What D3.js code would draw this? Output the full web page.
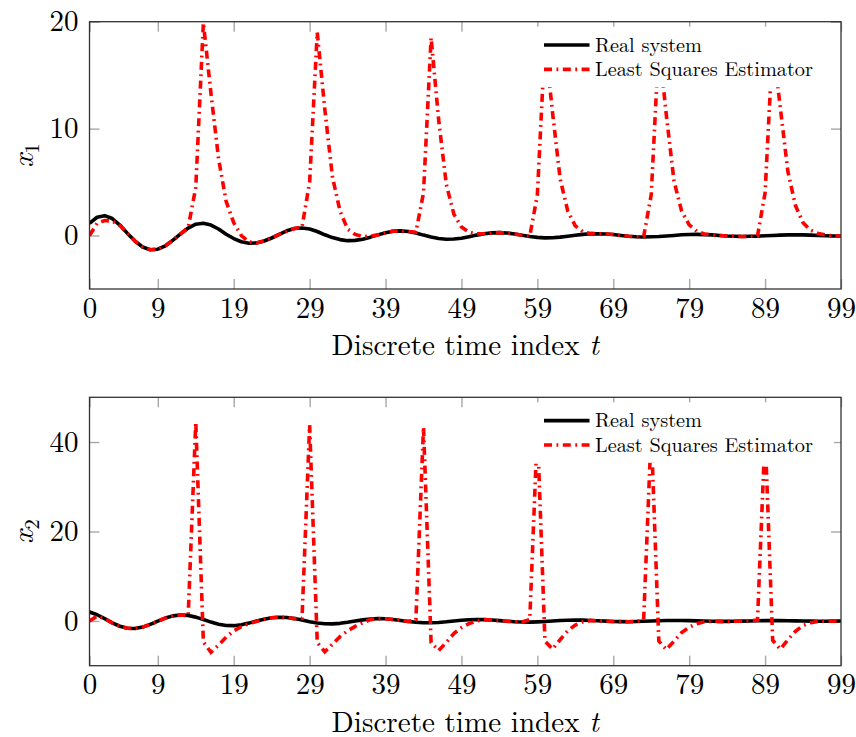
<!DOCTYPE html>
<html><head><meta charset="utf-8">
<script src="https://cdn.jsdelivr.net/npm/d3@7"></script>
<style>
body{margin:0;background:#fff}
svg{display:block}
text{font-family:"Latin Modern Roman","Liberation Serif",serif;fill:#000}
</style>
</head><body>
<svg id="c" width="856" height="737"></svg>
<script>
// ---------- data ----------
const steps = d3.range(0, 100);
const xTickValues = [0, 9, 19, 29, 39, 49, 59, 69, 79, 89, 99];
const y1TickValues = [0, 10, 20];
const y2TickValues = [0, 20, 40];
const legendLabels = ["Real system", "Least Squares Estimator"];
const xAxisLabel = "Discrete time index ";

const x1Real = [
  1.14, 1.71, 1.86, 1.59, 0.98, 0.20, -0.52, -1.07, -1.33, -1.28, -0.96, -0.43, 0.16,
  0.70, 1.06, 1.15, 0.98, 0.61, 0.12, -0.28, -0.58, -0.72, -0.69, -0.51, -0.23, 0.10,
  0.44, 0.66, 0.71, 0.61, 0.38, 0.07, -0.19, -0.38, -0.48, -0.45, -0.34, -0.15, 0.06,
  0.27, 0.41, 0.44, 0.38, 0.24, 0.04, -0.14, -0.28, -0.35, -0.33, -0.25, -0.11, 0.04,
  0.17, 0.25, 0.27, 0.24, 0.15, 0.02, -0.09, -0.17, -0.22, -0.20, -0.15, -0.07, 0.02,
  0.11, 0.16, 0.17, 0.15, 0.09, 0.01, -0.06, -0.11, -0.14, -0.12, -0.09, -0.04, 0.01,
  0.07, 0.10, 0.11, 0.09, 0.06, 0.01, -0.04, -0.07, -0.09, -0.07, -0.06, -0.02, 0.01,
  0.04, 0.06, 0.07, 0.06, 0.04, 0.01, -0.02, -0.04, -0.05
];
const x1Est = [
  0.00, 1.15, 1.40, 1.35, 0.95, 0.20, -0.52, -1.07, -1.33, -1.28, -0.96, -0.43, 0.16,
  0.75, 4.50, 19.90, 13.30, 7.20, 3.20, 1.20, 0.00, -0.60, -0.69, -0.51, -0.23, 0.10,
  0.44, 0.66, 0.80, 5.00, 19.00, 11.80, 5.50, 2.30, 0.60, 0.10, -0.10, -0.05, 0.06,
  0.27, 0.41, 0.44, 0.38, 0.30, 4.00, 18.50, 10.80, 4.80, 2.00, 0.80, 0.30, 0.15,
  0.17, 0.25, 0.27, 0.24, 0.15, 0.02, -0.05, 3.80, 18.20, 11.50, 5.30, 2.30, 0.90,
  0.35, 0.20, 0.17, 0.15, 0.09, 0.01, -0.06, -0.11, -0.10, 3.80, 18.00, 11.20, 5.10,
  2.30, 1.00, 0.40, 0.15, 0.06, 0.01, -0.04, -0.07, -0.09, -0.07, -0.05, 4.00, 18.00,
  12.00, 6.00, 2.80, 1.20, 0.50, 0.20, 0.05, -0.04, -0.05
];
const x2Real = [
  2.00, 1.39, 0.52, -0.41, -1.18, -1.63, -1.69, -1.37, -0.77, -0.04, 0.65, 1.14, 1.35,
  1.24, 0.86, 0.32, -0.25, -0.73, -1.01, -1.05, -0.85, -0.48, -0.02, 0.40, 0.71, 0.84,
  0.77, 0.53, 0.20, -0.16, -0.45, -0.63, -0.65, -0.53, -0.30, -0.01, 0.25, 0.44, 0.52,
  0.48, 0.33, 0.12, -0.10, -0.28, -0.39, -0.40, -0.33, -0.19, -0.01, 0.16, 0.27, 0.32,
  0.30, 0.20, 0.07, -0.06, -0.17, -0.24, -0.25, -0.20, -0.12, -0.01, 0.10, 0.17, 0.20,
  0.19, 0.12, 0.04, -0.04, -0.11, -0.15, -0.16, -0.12, -0.07, -0.01, 0.06, 0.11, 0.12,
  0.12, 0.07, 0.02, -0.02, -0.07, -0.09, -0.10, -0.07, -0.04, -0.01, 0.04, 0.07, 0.07,
  0.07, 0.04, 0.01, -0.01, -0.04, -0.06, -0.06, -0.04, -0.02
];
const x2Est = [
  0.00, 1.10, 0.52, -0.41, -1.18, -1.63, -1.69, -1.37, -0.77, -0.04, 0.65, 1.14, 1.35,
  1.20, 44.50, -4.70, -7.00, -5.40, -3.60, -2.20, -1.30, -0.60, -0.10, 0.40, 0.71, 0.84,
  0.77, 0.53, 0.60, 43.80, -4.80, -6.90, -5.20, -3.50, -2.20, -1.20, -0.40, 0.30, 0.52,
  0.48, 0.33, 0.12, -0.10, 0.30, 43.40, -4.80, -6.60, -4.80, -2.80, -1.50, -0.60, 0.00,
  0.30, 0.20, 0.07, -0.06, -0.17, -0.24, 0.30, 43.00, -4.50, -6.30, -4.20, -2.20, -0.90,
  -0.20, 0.12, 0.04, -0.04, -0.11, -0.15, -0.16, -0.12, 0.20, 42.50, -4.50, -6.40, -4.50,
  -2.60, -1.40, -0.60, -0.20, -0.07, -0.09, -0.10, -0.07, -0.04, -0.01, 0.20, 42.00, -4.30,
  -6.30, -4.20, -2.30, -1.00, -0.40, -0.10, -0.06, -0.04, -0.02
];

// ---------- drawing ----------
const FONT = '"Latin Modern Roman","Liberation Serif",serif';
const svg = d3.select("#c");
const LEFT = 89.5, RIGHT = 841;
const DASH = "8 4.5 1.8 4.5";

function panel(cfg) {
  const x = d3.scaleLinear().domain([0, 99]).range([LEFT, RIGHT]);
  const y = d3.scaleLinear().domain(cfg.yDomain).range([cfg.bottom, cfg.top]);
  const g = svg.append("g");

  svg.append("clipPath").attr("id", "clip" + cfg.id)
    .append("rect").attr("x", LEFT).attr("y", cfg.top)
    .attr("width", RIGHT - LEFT).attr("height", cfg.bottom - cfg.top);

  const tickLen = 10;
  const axes = [
    g.append("g").attr("transform", `translate(0,${cfg.bottom})`)
      .call(d3.axisBottom(x).tickValues(xTickValues).tickSizeInner(-tickLen).tickSizeOuter(0).tickPadding(8)),
    g.append("g").attr("transform", `translate(0,${cfg.top})`)
      .call(d3.axisTop(x).tickValues(xTickValues).tickSizeInner(-tickLen).tickSizeOuter(0).tickFormat("")),
    g.append("g").attr("transform", `translate(${LEFT},0)`)
      .call(d3.axisLeft(y).tickValues(cfg.yTicks).tickSizeInner(-tickLen).tickSizeOuter(0).tickPadding(11)),
    g.append("g").attr("transform", `translate(${RIGHT},0)`)
      .call(d3.axisRight(y).tickValues(cfg.yTicks).tickSizeInner(-tickLen).tickSizeOuter(0).tickFormat(""))
  ];
  axes.forEach(a => {
    a.attr("font-family", FONT);
    a.select(".domain").remove();
    a.selectAll(".tick line").attr("stroke", "#a8a8a8").attr("stroke-width", 1.4);
    a.selectAll(".tick text").attr("font-size", 29).attr("fill", "#000")
      .attr("font-family", FONT);
  });

  const line = d3.line().x((d, i) => x(steps[i])).y(d => y(d));
  const lg = g.append("g").attr("clip-path", `url(#clip${cfg.id})`);
  lg.append("path").datum(cfg.real).attr("d", line)
    .attr("fill", "none").attr("stroke", "#000").attr("stroke-width", 3.6)
    .attr("stroke-linejoin", "round");
  lg.append("path").datum(cfg.est).attr("d", line)
    .attr("fill", "none").attr("stroke", "#ff0000").attr("stroke-width", 3.6)
    .attr("stroke-dasharray", DASH);

  // legend (white filled box hides curves under it)
  const lgd = g.append("g");
  lgd.append("rect").attr("x", 528).attr("y", cfg.top + 5)
    .attr("width", 306).attr("height", 60.5).attr("fill", "#fff");
  const rows = [
    {label: legendLabels[0], color: "#000", dash: null},
    {label: legendLabels[1], color: "#ff0000", dash: DASH}
  ];
  rows.forEach((r, k) => {
    const cy = cfg.top + 23.3 + k * 24.4;
    const l = lgd.append("line").attr("x1", 544).attr("x2", 589.5).attr("y1", cy).attr("y2", cy)
      .attr("stroke", r.color).attr("stroke-width", 3.6);
    if (r.dash) l.attr("stroke-dasharray", r.dash);
    lgd.append("text").attr("x", 595).attr("y", cy).attr("dy", "0.33em")
      .attr("font-family", FONT).attr("font-size", 20.3)
      .text(r.label);
  });

  // frame
  g.append("rect").attr("x", LEFT).attr("y", cfg.top)
    .attr("width", RIGHT - LEFT).attr("height", cfg.bottom - cfg.top)
    .attr("fill", "none").attr("stroke", "#333").attr("stroke-width", 1.3);

  // x label
  const xl = g.append("text").attr("x", (LEFT + RIGHT) / 2).attr("y", cfg.bottom + 66)
    .attr("text-anchor", "middle").attr("font-size", 29.1).attr("font-family", FONT);
  xl.append("tspan").text(xAxisLabel);
  xl.append("tspan").attr("font-style", "italic").text("t");

  // y label
  const yl = g.append("text").attr("font-family", FONT)
    .attr("transform", `translate(27,${(cfg.top + cfg.bottom) / 2}) rotate(-90)`)
    .attr("text-anchor", "middle").attr("dy", "0.2em").attr("font-size", 30);
  yl.append("tspan").attr("font-style", "italic").text("x");
  yl.append("tspan").attr("font-size", 21).attr("dy", "0.3em").text(cfg.sub);
}

panel({id: 1, top: 21.7, bottom: 289, yDomain: [-5, 20], yTicks: y1TickValues,
       real: x1Real, est: x1Est, sub: "1"});
panel({id: 2, top: 397.3, bottom: 665.7, yDomain: [-10, 50], yTicks: y2TickValues,
       real: x2Real, est: x2Est, sub: "2"});
</script>
</body></html>
